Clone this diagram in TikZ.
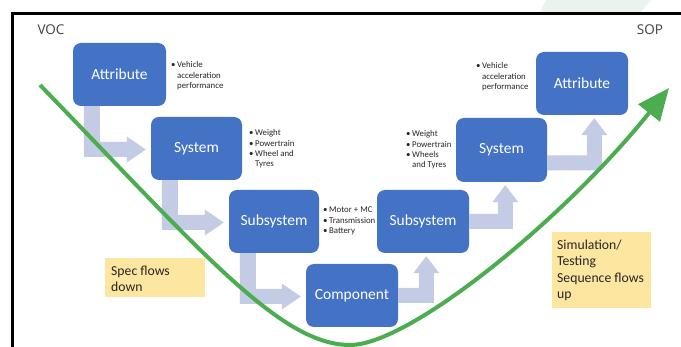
\documentclass[tikz,border=0pt]{standalone}
\usepackage{fontspec}
\setmainfont{Carlito}
\newfontfamily\vocfont{Open Sans}
\usetikzlibrary{arrows.meta,calc}
\definecolor{boxblue}{RGB}{68,114,196}
\definecolor{arrlav}{RGB}{196,203,228}
\definecolor{vgreen}{RGB}{76,173,80}
\definecolor{ylw}{RGB}{252,230,160}
\definecolor{palegrn}{RGB}{234,243,237}
\definecolor{txtgray}{RGB}{64,64,64}
% down-then-right bent arrow from #1 (above) to #2 (right)
\newcommand{\dnArrow}[2]{%
  \fill[barrow] let \p1=(#1.south west), \p2=(#2.west) in
  (\x1+11pt,\y1) -- (\x1+27pt,\y1) -- (\x1+27pt,\y2+6.5pt) -- (\x2-24pt,\y2+6.5pt)
  -- (\x2-24pt,\y2+12pt) -- (\x2-5pt,\y2-1pt) -- (\x2-24pt,\y2-14pt)
  -- (\x2-24pt,\y2-8.5pt) -- (\x1+11pt,\y2-8.5pt) -- cycle;}
% right-then-up bent arrow from #1 (left) to #2 (above); #3 bar offset, #4 drop
\newcommand{\upArrow}[4]{%
  \fill[barrow] let \p1=(#1.east), \p2=(#2.south west) in
  (\x1,\y1-#4pt-7.5pt) -- (\x2+#3pt+15pt,\y1-#4pt-7.5pt) -- (\x2+#3pt+15pt,\y2-20pt)
  -- (\x2+#3pt+20.5pt,\y2-20pt) -- (\x2+#3pt+7.5pt,\y2-3pt) -- (\x2+#3pt-5.5pt,\y2-20pt)
  -- (\x2+#3pt,\y2-20pt) -- (\x2+#3pt,\y1-#4pt+7.5pt) -- (\x1,\y1-#4pt+7.5pt) -- cycle;}
\begin{document}
\begin{tikzpicture}[x=1pt,y=-1pt,
  blk/.style={fill=boxblue, rounded corners=8pt, text=white, font=\fontsize{15.5}{18}\selectfont, inner sep=0pt},
  barrow/.style={fill=arrlav},
  bul/.style={inner sep=0pt, anchor=base west, text=black!85, font=\fontsize{8.8}{10.3}\selectfont},
  ybox/.style={fill=ylw, inner sep=0pt},
  ytxt/.style={inner sep=0pt, anchor=base west, text=black!85, font=\fontsize{13.7}{16.4}\selectfont},
  cornerlbl/.style={inner sep=0pt, text=txtgray, font=\vocfont\fontsize{13.5}{16}\selectfont},
  vline/.style={draw=vgreen, line width=4pt, -{Triangle[length=32pt,width=27pt]}}
]
\useasboundingbox (0,0) rectangle (681,347);
\fill[white] (0,0) rectangle (681,347);
\fill[palegrn] (546,0) -- (651,0) -- (641,12) -- (540,12) -- cycle;
\draw[line width=3pt] (12.5,347) -- (12.5,13.5) -- (681,13.5);

\node[cornerlbl] (voc) at (51,30) {VOC};
\node[cornerlbl] (sop) at (650,30) {SOP};

\node[ybox, minimum width=100pt, minimum height=39pt] (spec) at (155,277.5) {};
\node[ytxt] (specT) at (111,275.5) {\begin{tabular}[t]{@{}l@{}}Spec flows\\down\end{tabular}};
\node[ybox, minimum width=99pt, minimum height=76pt] (sim) at (601.5,270) {};
\node[ytxt] (simT) at (557,249.5) {\begin{tabular}[t]{@{}l@{}}Simulation/\\Testing\\Sequence flows\\up\end{tabular}};

\node[blk, minimum width=93pt, minimum height=63pt] (attL) at (119.5,74.5) {Attribute};
\node[blk, minimum width=91pt, minimum height=63pt] (sysL) at (196.5,148.5) {System};
\node[blk, minimum width=90pt, minimum height=63pt] (subL) at (274,221.5) {Subsystem};
\node[blk, minimum width=92pt, minimum height=63pt] (comp) at (352,295.5) {Component};
\node[blk, minimum width=92pt, minimum height=63pt] (subR) at (423,221.5) {Subsystem};
\node[blk, minimum width=91pt, minimum height=64pt] (sysR) at (501.5,150) {System};
\node[blk, minimum width=92pt, minimum height=63pt] (attR) at (582,83.5) {Attribute};

\dnArrow{attL}{sysL}
\dnArrow{sysL}{subL}
\dnArrow{subL}{comp}
\upArrow{comp}{subR}{42}{0}
\upArrow{subR}{sysR}{42}{0}
\upArrow{sysR}{attR}{51}{13}

\node[bul] (bAttL) at (171,68) {\begin{tabular}[t]{@{}l@{\hspace{1.6pt}}l@{}}\textbullet&Vehicle\\&acceleration\\&performance\end{tabular}};
\node[bul] (bSysL) at (249,136) {\begin{tabular}[t]{@{}l@{\hspace{1.6pt}}l@{}}\textbullet&Weight\\\textbullet&Powertrain\\\textbullet&Wheel and\\&Tyres\end{tabular}};
\node[bul] (bSubL) at (323,213) {\begin{tabular}[t]{@{}l@{\hspace{1.6pt}}l@{}}\textbullet&Motor + MC\\\textbullet&Transmission\\\textbullet&Battery\end{tabular}};
\node[bul] (bSysR) at (406,137) {\begin{tabular}[t]{@{}l@{\hspace{1.6pt}}l@{}}\textbullet&Weight\\\textbullet&Powertrain\\\textbullet&Wheels\\&and Tyres\end{tabular}};
\node[bul] (bAttR) at (476,69) {\begin{tabular}[t]{@{}l@{\hspace{1.6pt}}l@{}}\textbullet&Vehicle\\&acceleration\\&performance\end{tabular}};

\coordinate (gS) at (40,85);
\coordinate (gE) at (669,88);
\draw[vline] (gS) .. controls (200,250) and (280,345) .. (350,345) .. controls (410,345) and (565,218) .. (gE);
\end{tikzpicture}
\end{document}
